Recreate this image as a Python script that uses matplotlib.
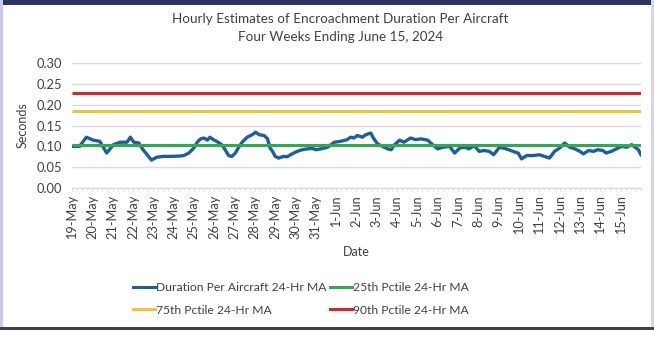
import matplotlib
matplotlib.use("Agg")
import matplotlib.pyplot as plt
import numpy as np
import pandas as pd
from matplotlib.patches import Rectangle
from matplotlib.lines import Line2D

plt.rcParams['font.family'] = ['Lato', 'DejaVu Sans']

# hours since 19-May 00:00 and the 24-hr moving average (seconds)
hours = [0, 9, 17, 25, 33, 41, 49, 57, 65, 69, 73, 79, 84, 92, 94, 100, 108, 118,
         128, 132, 138, 144, 148, 152, 156, 160, 163, 167, 171, 177, 181, 185, 189,
         193, 197, 201, 207, 213, 217, 221, 227, 231, 234, 237, 240, 244, 250, 254,
         260, 266, 272, 278, 284, 288, 294, 302, 310, 317, 325, 329, 333, 337, 343,
         347, 353, 356, 361, 367, 373, 377, 381, 387, 392, 400, 406, 412, 420, 426,
         432, 438, 446, 452, 458, 464, 469, 475, 481, 487, 493, 498, 505, 513, 521,
         527, 531, 537, 545, 552, 558, 564, 570, 576, 582, 588, 594, 600, 604, 610,
         616, 621, 627, 631, 637, 643, 649, 655, 661, 665, 669, 672]
duration = [0.100, 0.100, 0.122, 0.115, 0.112, 0.084, 0.104, 0.110, 0.110, 0.122,
            0.110, 0.108, 0.092, 0.072, 0.067, 0.074, 0.076, 0.076, 0.077, 0.078,
            0.084, 0.096, 0.110, 0.118, 0.120, 0.115, 0.122, 0.116, 0.112, 0.104,
            0.092, 0.078, 0.076, 0.084, 0.098, 0.110, 0.122, 0.128, 0.134, 0.128,
            0.126, 0.118, 0.096, 0.088, 0.076, 0.072, 0.076, 0.075, 0.082, 0.088,
            0.092, 0.094, 0.095, 0.092, 0.094, 0.098, 0.110, 0.112, 0.116, 0.122,
            0.120, 0.126, 0.122, 0.128, 0.132, 0.120, 0.106, 0.100, 0.094, 0.092,
            0.104, 0.115, 0.110, 0.120, 0.116, 0.118, 0.115, 0.104, 0.094, 0.098,
            0.100, 0.084, 0.096, 0.098, 0.094, 0.102, 0.088, 0.090, 0.088, 0.080,
            0.098, 0.094, 0.088, 0.084, 0.070, 0.078, 0.078, 0.080, 0.076, 0.072,
            0.088, 0.096, 0.108, 0.098, 0.094, 0.088, 0.082, 0.090, 0.088, 0.092,
            0.090, 0.084, 0.088, 0.094, 0.100, 0.098, 0.104, 0.098, 0.092, 0.080]

p25 = 0.104
p75 = 0.184
p90 = 0.228

days = pd.date_range('2024-05-19', '2024-06-15', freq='D')
day_labels = [f"{d.day}-{d:%b}" for d in days]

c_blue = '#1f5e9e'
c_green = '#33a852'
c_yellow = '#f0c33c'
c_red = '#d8262c'

fig = plt.figure(figsize=(6.54, 3.42), dpi=100)
ax = fig.add_axes([0.110, 0.450, 0.870, 0.366])

x_end = 24 * len(days)
ax.plot([0, x_end], [p90, p90], color=c_red, lw=2.2, solid_capstyle='butt')
ax.plot([0, x_end], [p75, p75], color=c_yellow, lw=2.2, solid_capstyle='butt')
ax.plot(hours, duration, color=c_blue, lw=2.4)
ax.plot([0, x_end], [p25, p25], color=c_green, lw=2.2, solid_capstyle='butt')

ax.set_xlim(0, x_end)
ax.set_ylim(0, 0.30)
ax.set_yticks(np.arange(0, 0.301, 0.05))
ax.yaxis.set_major_formatter(matplotlib.ticker.FormatStrFormatter('%.2f'))
ax.set_xticks(np.arange(len(days)) * 24)
ax.set_xticklabels(day_labels, rotation=90, fontsize=9.2, color='#404040')
ax.set_xticks(np.arange(0, x_end + 1, 6), minor=True)
ax.tick_params(axis='y', length=0, labelsize=9.3, colors='#404040', pad=7)
ax.tick_params(axis='x', which='both', length=2, color='#d9d9d9', pad=3)
ax.grid(axis='y', color='#dcdcdc', lw=1)
ax.set_axisbelow(True)
for s in ['top', 'right', 'left']:
    ax.spines[s].set_visible(False)
ax.spines['bottom'].set_color('#d9d9d9')

ax.set_ylabel('Seconds', fontsize=9, color='#404040', labelpad=6)
ax.set_xlabel('Date', fontsize=9, color='#404040', labelpad=5)

fig.text(0.52, 0.945, 'Hourly Estimates of Encroachment Duration Per Aircraft',
         ha='center', va='center', fontsize=9.7, color='#404040')
fig.text(0.52, 0.893, 'Four Weeks Ending June 15, 2024',
         ha='center', va='center', fontsize=9.7, color='#404040')

handles = [Line2D([], [], color=c_blue, lw=2.2),
           Line2D([], [], color=c_yellow, lw=2.2),
           Line2D([], [], color=c_green, lw=2.2),
           Line2D([], [], color=c_red, lw=2.2)]
labels = ['Duration Per Aircraft 24-Hr MA', '75th Pctile 24-Hr MA',
          '25th Pctile 24-Hr MA', '90th Pctile 24-Hr MA']
fig.legend(handles, labels, ncol=2, loc='center', bbox_to_anchor=(0.46, 0.126),
           frameon=False, fontsize=8.7, handlelength=1.8, handletextpad=0.1,
           columnspacing=0.3, labelspacing=0.95, labelcolor='#404040')

# frame around the chart
fig.add_artist(Rectangle((0, 0.985), 1, 0.015, transform=fig.transFigure,
                         color='#2b3460', lw=0))
fig.add_artist(Rectangle((0, 0.04), 0.005, 0.96, transform=fig.transFigure,
                         color='#c9c9ef', lw=0))
fig.add_artist(Rectangle((0.996, 0.04), 0.004, 0.96, transform=fig.transFigure,
                         color='#d5d5e5', lw=0))
fig.add_artist(Rectangle((0, 0.035), 1, 0.008, transform=fig.transFigure,
                         color='#3a3f5c', lw=0))

fig.savefig('out.png', dpi=100)
